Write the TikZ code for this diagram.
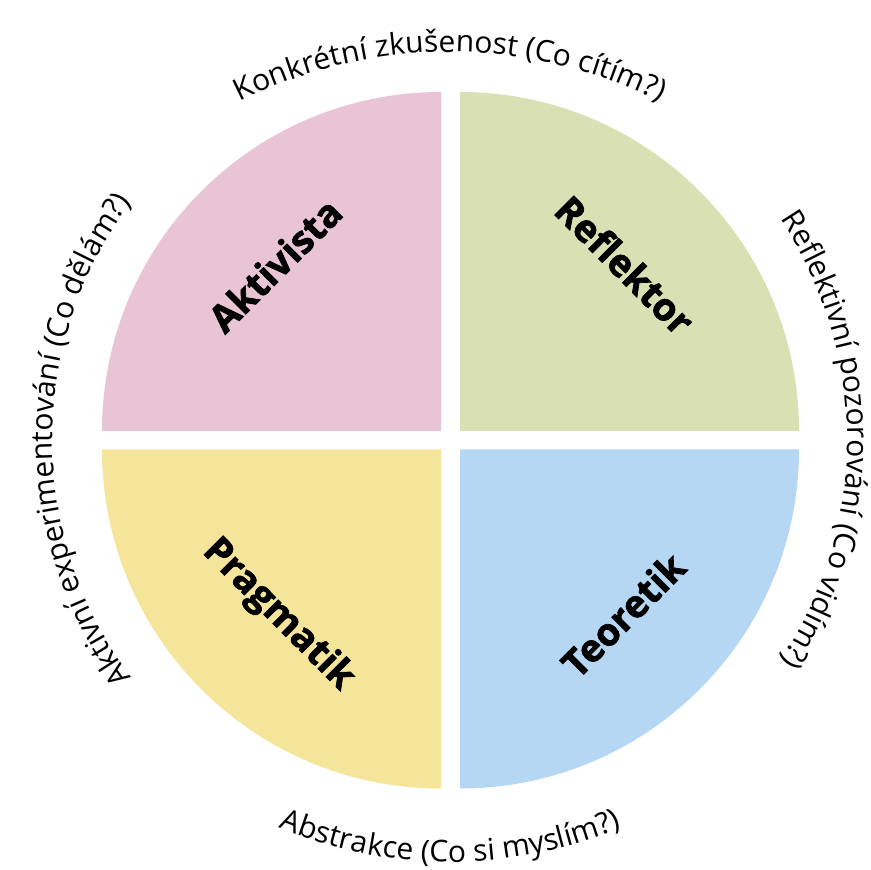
\documentclass[tikz,border=0pt]{standalone}
\usepackage{fontspec}
\setmainfont{Open Sans}
\newfontfamily\heavyfont{Open Sans}[BoldFeatures={FakeBold=1.8}]
\usetikzlibrary{decorations.text,calc}
\definecolor{qpink}{RGB}{233,196,212}
\definecolor{qgreen}{RGB}{217,224,180}
\definecolor{qyellow}{RGB}{245,229,154}
\definecolor{qblue}{RGB}{181,215,243}
\tikzset{
  quadlabel/.style={font=\heavyfont\bfseries\fontsize{38}{38}\selectfont, text=black, inner sep=0pt},
  arctext/.style={decorate, decoration={text along path, text align=center,
     text={|\fontsize{30}{30}\selectfont|#1}}}
}
\begin{document}
\begin{tikzpicture}[x=1pt,y=1pt]
\useasboundingbox (0,0) rectangle (871,870);
\coordinate (c) at (450.5,430);
\coordinate (ctop) at (450,350);
\coordinate (cbot) at (450,450);
% quadrants
\fill[qpink] (441,439) -- (102,439) arc[start angle=180,end angle=90,radius=339] -- cycle;
\fill[qgreen] (460,439) -- (799,439) arc[start angle=0,end angle=90,radius=339] -- cycle;
\fill[qyellow] (441,420.5) -- (102,420.5) arc[start angle=180,end angle=270,radius=339] -- cycle;
\fill[qblue] (460,420.5) -- (799,420.5) arc[start angle=0,end angle=-90,radius=339] -- cycle;
% labels
\node[quadlabel, rotate=45] (akt) at (275,605) {Aktivista};
\node[quadlabel, rotate=-45] (ref) at (625,605) {Reflektor};
\node[quadlabel, rotate=-45] (pra) at (278,255) {Pragmatik};
\node[quadlabel, rotate=45] (teo) at (623,255) {Teoretik};
% curved texts
\path[arctext={Konkrétní zkušenost (Co cítím?)}] ($(ctop)+(145:468)$) arc[start angle=145,end angle=35,radius=468];
\path[arctext={Abstrakce (Co si myslím?)}] ($(cbot)+(225:442)$) arc[start angle=225,end angle=315,radius=442];
\path[arctext={Reflektivní pozorování (Co vidím?)}] ($(c)+(55:397)$) arc[start angle=55,end angle=-55,radius=397];
\path[arctext={Aktivní experimentování (Co dělám?)}] ($(c)+(235:398)$) arc[start angle=235,end angle=125,radius=398];
\end{tikzpicture}
\end{document}
